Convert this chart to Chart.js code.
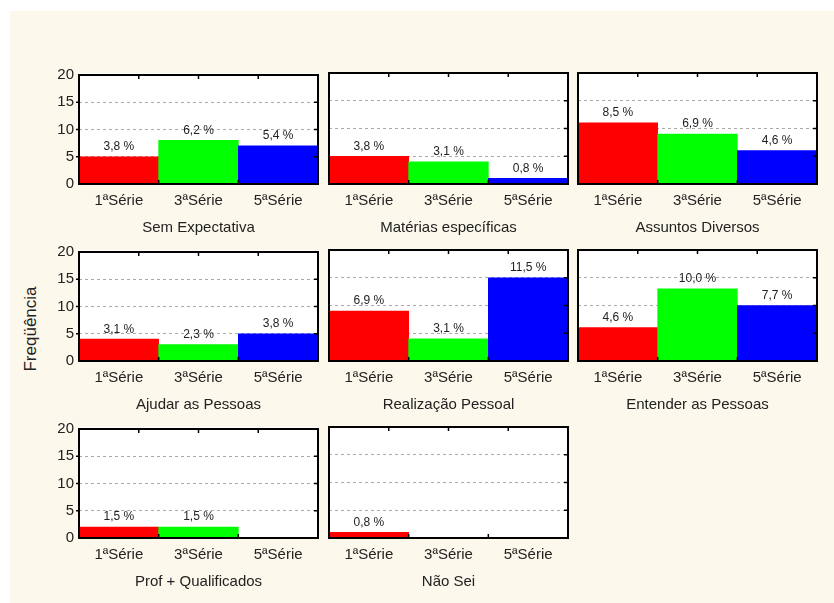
<!DOCTYPE html>
<html>
<head>
<meta charset="utf-8">
<script src="https://cdn.jsdelivr.net/npm/chart.js@4.4.1/dist/chart.umd.min.js"></script>
<style>
  body { margin: 0; background: #fff; width: 834px; height: 603px; overflow: hidden; position: relative; }
  #bg { position: absolute; left: 10px; top: 11px; width: 824px; height: 592px; background: #fdf8ec; }
  .plotbg { position: absolute; background: #ffffff; }
  canvas { position: absolute; }
  #ylab { position: absolute; left: 31px; top: 329px; transform: translate(-50%, -50%) rotate(-90deg);
          font: 17px "Liberation Sans", Arial, sans-serif; color: #222; white-space: nowrap; }
</style>
</head>
<body>
<div id="bg"></div>
<div id="ylab">Freqüência</div>
<script>
// categories (school year) and panel names
const series = ['1ªSérie', '3ªSérie', '5ªSérie'];
const panels = ['Sem Expectativa', 'Matérias específicas', 'Assuntos Diversos',
                'Ajudar as Pessoas', 'Realização Pessoal', 'Entender as Pessoas',
                'Prof + Qualificados', 'Não Sei'];

// frequencies per panel
const semExpectativa   = [5, 8, 7];
const materias         = [5, 4, 1];
const assuntos         = [11, 9, 6];
const ajudar           = [4, 3, 5];
const realizacao       = [9, 4, 15];
const entender         = [6, 13, 10];
const profQualificados = [2, 2, 0];
const naoSei           = [1, 0, 0];

// percentage labels printed over the bars
const pctSemExpectativa   = ['3,8 %', '6,2 %', '5,4 %'];
const pctMaterias         = ['3,8 %', '3,1 %', '0,8 %'];
const pctAssuntos         = ['8,5 %', '6,9 %', '4,6 %'];
const pctAjudar           = ['3,1 %', '2,3 %', '3,8 %'];
const pctRealizacao       = ['6,9 %', '3,1 %', '11,5 %'];
const pctEntender         = ['4,6 %', '10,0 %', '7,7 %'];
const pctProfQualificados = ['1,5 %', '1,5 %', ''];
const pctNaoSei           = ['0,8 %', '', ''];

const yTicks = [0, 5, 10, 15, 20];

const values = [semExpectativa, materias, assuntos, ajudar, realizacao, entender, profQualificados, naoSei];
const pcts = [pctSemExpectativa, pctMaterias, pctAssuntos, pctAjudar, pctRealizacao, pctEntender, pctProfQualificados, pctNaoSei];

const colLeft = [79, 329, 578];
const rowTop = [73, 250, 427];
const plotW = 239, plotH = 111;
const padL = 40, padT = 12, padR = 4, axisH = 60;
const FONT = '"Liberation Sans", Arial, sans-serif';

// white plot area, frame, small tick marks and value labels
const framePlugin = {
  id: 'frame',
  beforeDraw(chart) {
    const { ctx, chartArea: a } = chart;
    ctx.save();
    ctx.fillStyle = '#ffffff';
    ctx.fillRect(a.left, a.top, a.right - a.left, a.bottom - a.top);
    ctx.restore();
  },
  afterDatasetsDraw(chart, args, opts) {
    const { ctx, chartArea: a } = chart;
    const y = chart.scales.y;
    ctx.save();
    // value labels
    ctx.font = '12px ' + FONT;
    ctx.fillStyle = '#222';
    ctx.textAlign = 'center';
    ctx.textBaseline = 'bottom';
    chart.getDatasetMeta(0).data.forEach((bar, i) => {
      if (opts.labels[i]) ctx.fillText(opts.labels[i], bar.x, bar.y - 4);
    });
    // frame
    ctx.strokeStyle = '#000';
    ctx.lineWidth = 2;
    ctx.strokeRect(a.left, a.top, a.right - a.left, a.bottom - a.top);
    ctx.lineWidth = 1.5;
    ctx.beginPath();
    const w = a.right - a.left;
    for (let k = 1; k < 4; k++) {
      const x = a.left + w * k / 4;
      ctx.moveTo(x, a.top); ctx.lineTo(x, a.top + 4);
    }
    for (let k = 1; k < 3; k++) {
      const x = a.left + w * k / 3;
      ctx.moveTo(x, a.bottom); ctx.lineTo(x, a.bottom - 4);
    }
    [5, 10, 15].forEach(v => {
      const py = y.getPixelForValue(v);
      ctx.moveTo(a.right, py); ctx.lineTo(a.right - 4, py);
      if (opts.leftTicks) { ctx.moveTo(a.left, py); ctx.lineTo(a.left - 3, py); }
    });
    ctx.stroke();
    ctx.restore();
  }
};

panels.forEach((name, p) => {
  const col = p % 3, row = Math.floor(p / 3);
  const bg = document.createElement('div');
  bg.className = 'plotbg';
  bg.style.left = colLeft[col] + 'px';
  bg.style.top = rowTop[row] + 'px';
  bg.style.width = plotW + 'px';
  bg.style.height = plotH + 'px';
  document.body.appendChild(bg);

  const cv = document.createElement('canvas');
  const W = padL + plotW + padR, H = padT + plotH + axisH;
  cv.width = W; cv.height = H;
  cv.style.left = (colLeft[col] - padL) + 'px';
  cv.style.top = (rowTop[row] - padT) + 'px';
  cv.style.width = W + 'px'; cv.style.height = H + 'px';
  document.body.appendChild(cv);

  new Chart(cv, {
    type: 'bar',
    data: {
      labels: series,
      datasets: [{
        data: values[p],
        backgroundColor: ['#ff0000', '#00ff00', '#0000ff'],
        borderWidth: 0,
        barPercentage: 1,
        categoryPercentage: 1
      }]
    },
    options: {
      responsive: false,
      animation: false,
      events: [],
      layout: { padding: { left: 0, top: padT, right: padR, bottom: 0 } },
      plugins: {
        legend: { display: false },
        tooltip: { enabled: false },
        frame: { labels: pcts[p], leftTicks: col === 0 }
      },
      scales: {
        x: {
          grid: { display: false, drawTicks: false },
          border: { display: false },
          ticks: { color: '#222', font: { family: FONT, size: 15 }, padding: 8 },
          title: { display: true, text: name, color: '#222', font: { family: FONT, size: 15 }, padding: { top: 0, bottom: 7 } },
          afterFit(scale) { scale.height = axisH; }
        },
        y: {
          min: 0, max: 20,
          afterBuildTicks(scale) { scale.ticks = yTicks.map(v => ({ value: v })); },
          grid: {
            drawTicks: false,
            color: c => (c.tick && (c.tick.value === 0 || c.tick.value === 20)) ? 'rgba(0,0,0,0)' : '#aaaaaa',
            lineWidth: 1
          },
          border: { display: false, dash: [3, 3] },
          ticks: { display: col === 0, color: '#222', font: { family: FONT, size: 15 }, padding: 5 },
          afterFit(scale) { scale.width = padL; }
        }
      }
    },
    plugins: [framePlugin]
  });
});
</script>
</body>
</html>
